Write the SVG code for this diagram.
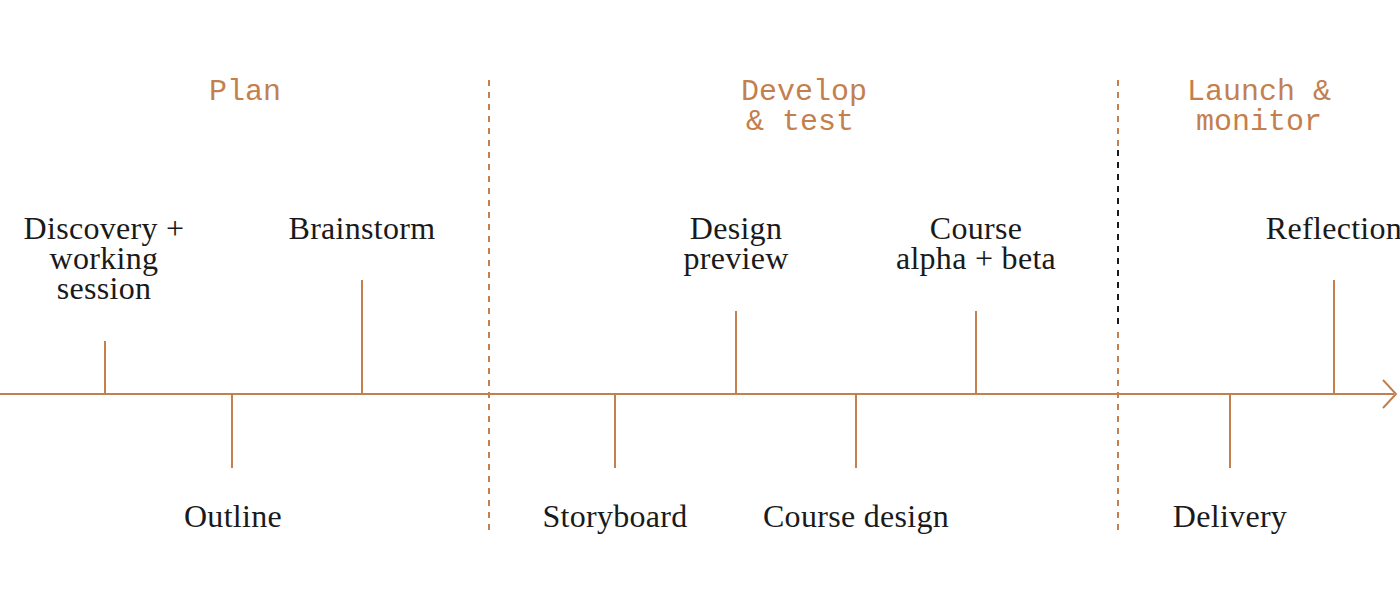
<svg xmlns="http://www.w3.org/2000/svg" width="1400" height="614" viewBox="0 0 1400 614">
<style>
.ln{stroke:#C47F4F;stroke-width:2;fill:none}
.dash{stroke:#C47F4F;stroke-width:2;stroke-dasharray:6 6}
.h{font-family:"Liberation Mono",monospace;font-size:30px;fill:#C47F4F;text-anchor:middle}
.t{font-family:"Liberation Serif",serif;font-size:32px;fill:#1a1a1a;text-anchor:middle;letter-spacing:0.3px}
</style>
<rect width="1400" height="614" fill="#fff"/>
<g id="connectors">
<line class="dash" x1="489" y1="80" x2="489" y2="530"/>
<line class="dash" x1="1118" y1="80" x2="1118" y2="530"/>
<line x1="1118" y1="150" x2="1118" y2="330" stroke="#fff" stroke-width="3"/>
<line x1="1118" y1="150" x2="1118" y2="330" stroke="#1a1a1a" stroke-width="2" stroke-dasharray="6 6"/>
<line class="ln" x1="0" y1="394" x2="1394" y2="394"/>
<polyline class="ln" points="1383,380 1396,394 1383,408"/>
<line class="ln" x1="105" y1="341" x2="105" y2="394"/>
<line class="ln" x1="232" y1="394" x2="232" y2="468"/>
<line class="ln" x1="362" y1="280" x2="362" y2="394"/>
<line class="ln" x1="615" y1="394" x2="615" y2="468"/>
<line class="ln" x1="736" y1="311" x2="736" y2="394"/>
<line class="ln" x1="856" y1="394" x2="856" y2="468"/>
<line class="ln" x1="976" y1="311" x2="976" y2="394"/>
<line class="ln" x1="1230" y1="394" x2="1230" y2="468"/>
<line class="ln" x1="1334" y1="280" x2="1334" y2="394"/>
</g>
<g id="phase-plan"><text class="h" x="245" y="100">Plan</text></g>
<g id="phase-develop"><text class="h" x="804" y="100">Develop</text><text class="h" x="800" y="130">&amp; test</text></g>
<g id="phase-launch"><text class="h" x="1259" y="100">Launch &amp;</text><text class="h" x="1259" y="130">monitor</text></g>
<g id="n-discovery"><text class="t" x="104" y="239">Discovery +</text><text class="t" x="104" y="269">working</text><text class="t" x="104" y="299">session</text></g>
<g id="n-brainstorm"><text class="t" x="362" y="239">Brainstorm</text></g>
<g id="n-outline"><text class="t" x="233" y="527">Outline</text></g>
<g id="n-storyboard"><text class="t" x="615" y="527">Storyboard</text></g>
<g id="n-design"><text class="t" x="736" y="239">Design</text><text class="t" x="736" y="269">preview</text></g>
<g id="n-coursedesign"><text class="t" x="856" y="527">Course design</text></g>
<g id="n-alpha"><text class="t" x="976" y="239">Course</text><text class="t" x="976" y="269">alpha + beta</text></g>
<g id="n-delivery"><text class="t" x="1230" y="527">Delivery</text></g>
<g id="n-reflection"><text class="t" x="1334" y="239">Reflection</text></g>
</svg>
